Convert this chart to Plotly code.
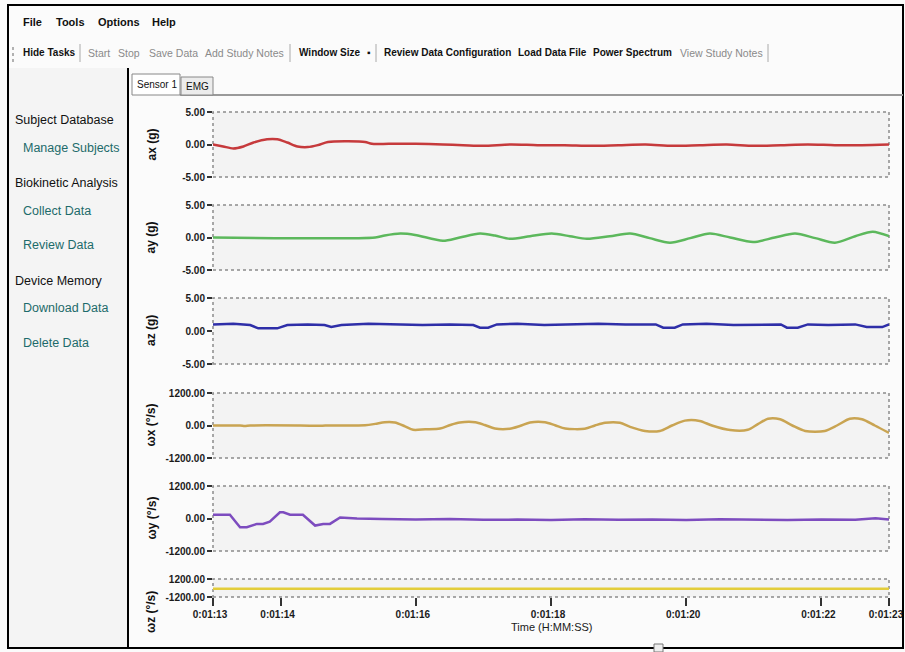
import plotly.graph_objects as go

# ---- sensor traces (time in seconds) ----
ax_t = [73.00, 73.15, 73.30, 73.45, 73.60, 73.80, 73.95, 74.10, 74.25, 74.40, 74.55, 74.70,
        75.00, 75.25, 75.35, 75.60, 76.00, 76.40, 76.70, 77.00, 77.40, 77.80, 78.20, 78.60,
        79.00, 79.40, 79.80, 80.20, 80.60, 81.00, 81.40, 81.80, 82.20, 82.60, 83.00]
ax_v = [0.0, -0.3, -0.6, -0.3, 0.3, 0.8, 0.8, 0.3, -0.3, -0.4, -0.1, 0.4,
        0.5, 0.4, 0.1, 0.1, 0.1, 0.0, -0.1, -0.2, 0.0, -0.1, -0.1, -0.2,
        -0.1, 0.0, -0.2, -0.1, 0.0, -0.2, -0.1, 0.0, -0.1, -0.1, 0.0]

ay_t = [73.00, 75.40, 75.54, 75.77, 75.99, 76.40, 76.65, 76.95, 77.17, 77.39, 77.69, 78.01,
        78.28, 78.53, 78.87, 79.17, 79.46, 79.76, 80.06, 80.35, 80.65, 80.99, 81.31, 81.61,
        81.91, 82.20, 82.50, 82.76, 83.00]
ay_v = [0.0, 0.0, 0.3, 0.6, 0.4, -0.5, 0.0, 0.6, 0.3, -0.2, 0.2, 0.6,
        0.2, -0.2, 0.2, 0.6, -0.1, -0.8, -0.1, 0.6, 0.0, -0.7, 0.0, 0.6,
        -0.1, -0.8, 0.2, 0.9, 0.2]

az_t = [73.00, 73.30, 73.55, 73.67, 73.95, 74.10, 74.40, 74.65, 74.75, 74.90, 75.30, 75.70,
        76.10, 76.50, 76.85, 76.95, 77.07, 77.20, 77.50, 77.90, 78.30, 78.70, 79.10, 79.55,
        79.66, 79.83, 79.95, 80.30, 80.70, 81.10, 81.40, 81.49, 81.65, 81.80, 82.10, 82.50,
        82.67, 82.90, 83.00]
az_v = [1.0, 1.1, 0.9, 0.4, 0.4, 0.9, 1.0, 0.9, 0.6, 0.9, 1.1, 1.0,
        0.9, 1.0, 0.9, 0.5, 0.5, 1.0, 1.1, 0.9, 1.0, 1.1, 1.0, 1.0,
        0.5, 0.5, 1.0, 1.1, 0.9, 1.0, 1.0, 0.5, 0.5, 1.0, 0.9, 1.0,
        0.6, 0.6, 1.0]

wx_t = [73.00, 73.40, 73.47, 73.55, 74.29, 74.58, 74.66, 75.25, 75.40, 75.54, 75.69, 75.84,
        75.96, 76.14, 76.36, 76.51, 76.65, 76.88, 77.02, 77.17, 77.39, 77.54, 77.69, 77.91,
        78.06, 78.21, 78.50, 78.65, 78.80, 79.02, 79.17, 79.39, 79.61, 79.79, 79.98, 80.20,
        80.38, 80.65, 80.91, 81.06, 81.21, 81.39, 81.57, 81.76, 82.05, 82.23, 82.42, 82.60,
        82.79, 83.00]
wx_v = [0, 0, -20, 0, 0, -10, 0, 10, 60, 120, 110, -30,
        -160, -140, -110, 20, 110, 120, 20, -110, -120, -20, 110, 120,
        10, -110, -120, 0, 100, 100, -50, -200, -200, 0, 180, 170,
        0, -170, -160, 50, 250, 230, 0, -200, -200, 0, 250, 230,
        0, -270]

wy_t = [73.00, 73.25, 73.40, 73.50, 73.65, 73.74, 73.84, 73.99, 74.04, 74.14, 74.33, 74.43,
        74.51, 74.63, 74.73, 74.88, 75.13, 75.50, 76.00, 76.50, 77.00, 77.50, 78.00, 78.50,
        79.00, 79.50, 80.00, 80.50, 81.00, 81.50, 82.00, 82.50, 82.80, 83.00]
wy_v = [140, 140, -320, -320, -200, -200, -120, 230, 230, 140, 140, -80,
        -260, -200, -200, 40, 0, -20, -40, -20, -50, -40, -60, -30,
        -50, -40, -60, -30, -50, -60, -40, -50, 10, -40]

wz_t = [73.0, 75.0, 77.0, 79.0, 81.0, 83.0]
wz_v = [-100, -100, -100, -100, -100, -100]

channel_titles = ["ax (g)", "ay (g)", "az (g)", "ωx (°/s)", "ωy (°/s)", "ωz (°/s)"]
acc_ticks = [5.0, 0.0, -5.0]
gyro_ticks = [1200.0, 0.0, -1200.0]
time_ticks = [73, 74, 76, 78, 80, 82, 83]
time_labels = ["0:01:13", "0:01:14", "0:01:16", "0:01:18", "0:01:20", "0:01:22", "0:01:23"]

W, H = 905, 652
X = lambda px: px / W
Y = lambda py: 1 - py / H

FONT = "Liberation Sans, Arial, sans-serif"

# panel pixel extents (top, bottom) of each plot area
panels = [(112, 177), (205, 270), (298, 364), (393, 458), (486, 551), (579, 597)]
series = [(ax_t, ax_v, "#c63a3c", "spline"),
          (ay_t, ay_v, "#5cb85c", "spline"),
          (az_t, az_v, "#2e2ea8", "linear"),
          (wx_t, wx_v, "#c9a452", "spline"),
          (wy_t, wy_v, "#7d4cbf", "linear"),
          (wz_t, wz_v, "#e3cd3a", "linear")]

fig = go.Figure()
layout = {}
shapes = []
annotations = []
x0, x1 = 213, 889

for i, ((top, bot), (t, v, col, shp)) in enumerate(zip(panels, series)):
    n = i + 1
    yname = "y" if n == 1 else f"y{n}"
    fig.add_trace(go.Scatter(x=t, y=v, mode="lines", yaxis=yname, xaxis="x",
                             line=dict(color=col, width=2.5, shape=shp, smoothing=0.8),
                             showlegend=False, hoverinfo="skip"))
    ticks = acc_ticks if i < 3 else gyro_ticks
    rng = [-5, 5] if i < 3 else [-1200, 1200]
    tvals = ticks if i < 5 else [1200.0, -1200.0]
    layout["yaxis" if n == 1 else f"yaxis{n}"] = dict(
        domain=[Y(bot), Y(top)], range=rng, anchor="x", fixedrange=True, automargin=False,
        tickvals=tvals, ticktext=[f"<b>{tv:.2f}</b>" for tv in tvals],
        ticks="outside", ticklen=5, tickwidth=2, tickcolor="#333",
        tickfont=dict(family=FONT, size=10, color="#1a1a1a"),
        showgrid=False, zeroline=False, showline=False)
    shapes.append(dict(type="rect", xref="paper", yref="paper",
                       x0=X(x0), x1=X(x1), y0=Y(bot), y1=Y(top),
                       fillcolor="#f3f3f3", line=dict(color="#8c8c8c", width=1.5, dash="dot"),
                       layer="below"))
    ty = (top + bot) / 2 if i < 5 else 612
    annotations.append(dict(text=f"<b>{channel_titles[i]}</b>", x=X(151), y=Y(ty),
                            xref="paper", yref="paper", textangle=-90, showarrow=False,
                            xanchor="center", yanchor="middle",
                            font=dict(family=FONT, size=12, color="#111")))

# labels nudged left a little so the last one stays inside the window frame
layout["xaxis"] = dict(domain=[X(x0), X(x1)], range=[73, 83], anchor="y6", automargin=False,
                       tickvals=time_ticks, ticktext=[f"<b>{s}</b>" for s in time_labels],
                       ticks="outside", ticklen=8, tickwidth=2, tickcolor="#333",
                       ticklabeloverflow="allow", ticklabelshift=-3,
                       tickfont=dict(family=FONT, size=10, color="#1a1a1a"),
                       showgrid=False, zeroline=False, showline=False, fixedrange=True)

annotations.append(dict(text="Time (H:MM:SS)", x=X(551), y=Y(635), xref="paper", yref="paper",
                        showarrow=False, font=dict(family=FONT, size=11, color="#1a1a1a")))

# ---- application chrome ----
shapes += [
    dict(type="rect", xref="paper", yref="paper", x0=X(9), x1=X(127), y0=Y(647), y1=Y(68),
         fillcolor="#f4f4f4", line=dict(width=0), layer="below"),
    dict(type="rect", xref="paper", yref="paper", x0=X(8), x1=X(903), y0=Y(648), y1=Y(5),
         line=dict(color="#000", width=2)),
    dict(type="line", xref="paper", yref="paper", x0=X(128), x1=X(128), y0=Y(648), y1=Y(68),
         line=dict(color="#000", width=2)),
    dict(type="line", xref="paper", yref="paper", x0=X(180), x1=X(903), y0=Y(95), y1=Y(95),
         line=dict(color="#9a9a9a", width=2)),
    dict(type="rect", xref="paper", yref="paper", x0=X(132), x1=X(180), y0=Y(95), y1=Y(74),
         fillcolor="#ffffff", line=dict(color="#888", width=1)),
    dict(type="rect", xref="paper", yref="paper", x0=X(181), x1=X(213), y0=Y(95), y1=Y(77),
         fillcolor="#ececec", line=dict(color="#888", width=1)),
    dict(type="line", xref="paper", yref="paper", x0=X(13), x1=X(13), y0=Y(62), y1=Y(44),
         line=dict(color="#999", width=1.5, dash="dot")),
    dict(type="rect", xref="paper", yref="paper", x0=X(654), x1=X(663), y0=Y(652), y1=Y(644),
         fillcolor="#eee", line=dict(color="#777", width=1)),
]
for sx in [80, 290, 376, 768]:
    shapes.append(dict(type="line", xref="paper", yref="paper", x0=X(sx), x1=X(sx),
                       y0=Y(62), y1=Y(44), line=dict(color="#aaa", width=1)))

def label(txt, x, y, size=12, color="#111", bold=False):
    annotations.append(dict(text=f"<b>{txt}</b>" if bold else txt, x=X(x), y=Y(y),
                            xref="paper", yref="paper", xanchor="left", yanchor="middle",
                            showarrow=False, font=dict(family=FONT, size=size, color=color)))

for txt, x in [("File", 21), ("Tools", 54), ("Options", 96), ("Help", 150)]:
    label(txt, x, 22, 11, bold=True)

toolbar = [("Hide Tasks", 21, True), ("Start", 86, False), ("Stop", 116, False),
           ("Save Data", 147, False), ("Add Study Notes", 203, False),
           ("Window Size", 297, True), ("▪", 365, True),
           ("Review Data Configuration", 382, True), ("Load Data File", 516, True),
           ("Power Spectrum", 591, True), ("View Study Notes", 678, False)]
for txt, x, strong in toolbar:
    label(txt, x, 53, 10 if strong else 10.5, color="#111" if strong else "#8a8a8a", bold=strong)

label("Sensor 1", 135, 84, 10, color="#111")
label("EMG", 184, 86, 10, color="#111")

side = [("Subject Database", 13, 120, "#111"), ("Manage Subjects", 21, 148, "#1d6b6b"),
        ("Biokinetic Analysis", 13, 183, "#111"), ("Collect Data", 21, 211, "#1d6b6b"),
        ("Review Data", 21, 245, "#1d6b6b"), ("Device Memory", 13, 281, "#111"),
        ("Download Data", 21, 308, "#1d6b6b"), ("Delete Data", 21, 343, "#1d6b6b")]
for txt, x, y, c in side:
    label(txt, x, y, 12.5, color=c)

fig.update_layout(width=W, height=H, margin=dict(l=0, r=0, t=0, b=0, pad=0),
                  paper_bgcolor="#fbfbfb", plot_bgcolor="rgba(0,0,0,0)",
                  shapes=shapes, annotations=annotations, **layout)
fig.write_html("out.html")
